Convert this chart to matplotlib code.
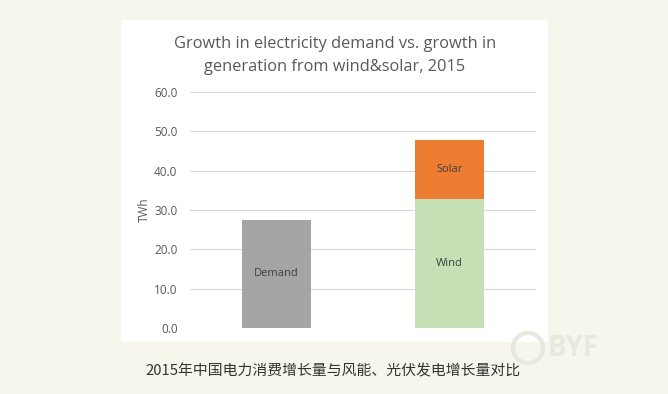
import matplotlib.pyplot as plt
from matplotlib.patches import Rectangle, Ellipse

# data (TWh)
categories = ['Demand', 'Wind & solar']
demand = [27.5, 0]
wind = [0, 32.8]
solar = [0, 15.0]
yticks = [0, 10, 20, 30, 40, 50, 60]

plt.rcParams['font.family'] = ['Open Sans', 'DejaVu Sans']

fig = plt.figure(figsize=(6.68, 3.94), dpi=100)
fig.patch.set_facecolor('#f7f6ec')

# white chart panel
fig.patches.append(Rectangle((121 / 668, 1 - 342 / 394), 427 / 668, 322 / 394,
                             transform=fig.transFigure, facecolor='white',
                             edgecolor='none', zorder=-5))

ax = fig.add_axes([190 / 668, 1 - 328 / 394, 346 / 668, 236 / 394])
ax.set_facecolor('none')
ax.set_zorder(2)

x = range(len(categories))
w = 0.40
ax.bar(x, demand, width=w, color='#a5a5a5', zorder=3)
ax.bar(x, wind, width=w, color='#c5e0b4', zorder=3)
ax.bar(x, solar, width=w, bottom=wind, color='#ed7d31', zorder=3)

ax.text(0, demand[0] / 2, 'Demand', ha='center', va='center', fontsize=8, color='#404040', zorder=4)
ax.text(1, wind[1] / 2, 'Wind', ha='center', va='center', fontsize=8, color='#404040', zorder=4)
ax.text(1, wind[1] + solar[1] / 2, 'Solar', ha='center', va='center', fontsize=8, color='#404040', zorder=4)

ax.set_xlim(-0.5, 1.5)
ax.set_ylim(0, 60)
ax.set_yticks(yticks)
ax.set_yticklabels([f'{v:.1f}' for v in yticks], fontsize=8.5, color='#595959')
ax.set_xticks([])
ax.tick_params(axis='y', length=0, pad=9)
ax.grid(axis='y', color='#d9d9d9', linewidth=0.8, zorder=0)
for s in ax.spines.values():
    s.set_visible(False)
ax.set_ylabel('TWh', fontsize=8.5, color='#595959', labelpad=2)

fig.text(335 / 668, 1 - 44 / 394, 'Growth in electricity demand vs. growth in',
         ha='center', va='center', fontsize=11.8, color='#595959')
fig.text(335 / 668, 1 - 67 / 394, 'generation from wind&solar, 2015',
         ha='center', va='center', fontsize=11.8, color='#595959')

fig.text(145 / 668, 1 - 371 / 394, '2015年中国电力消费增长量与风能、光伏发电增长量对比',
         ha='left', va='center', fontsize=10.7, color='#333333',
         family=['Noto Sans CJK SC', 'DejaVu Sans'])

# faint watermark
fig.patches.append(Ellipse((528 / 668, 1 - 348 / 394), 30 / 668, 30 / 394,
                           transform=fig.transFigure, facecolor='none',
                           edgecolor='#e8e8e0', linewidth=3, zorder=1))
fig.text(548 / 668, 1 - 348 / 394, 'BYF', fontsize=20, fontweight='bold',
         color='#e8e8e0', ha='left', va='center')

fig.savefig('out.png', dpi=100, facecolor=fig.get_facecolor())
